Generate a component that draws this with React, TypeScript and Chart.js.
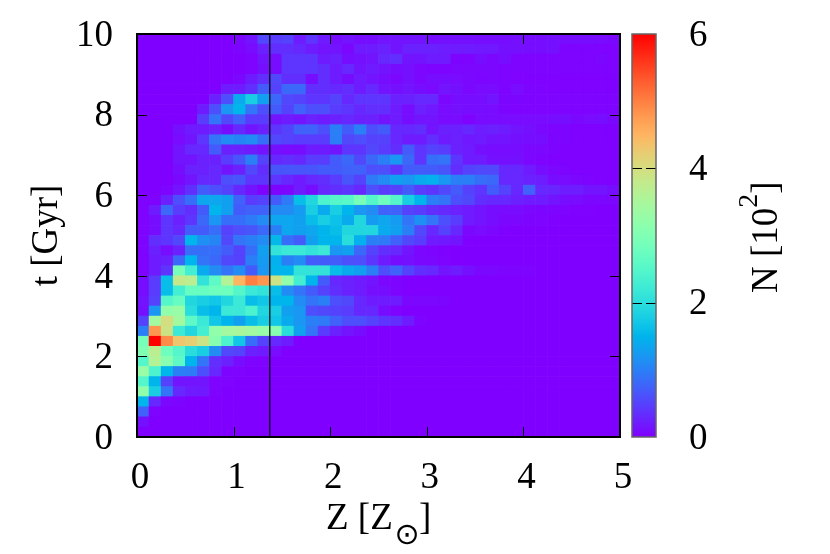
import React, { useEffect, useRef } from "react";
import { Chart, registerables } from "chart.js";

Chart.register(...registerables);

const FONT = '"Liberation Serif", "Times New Roman", serif';
const zEdgeStep = 0.125;
const tEdgeStep = 0.25;
const columnCount = 40;
const zTicksStep = 1;
const tTicksStep = 2;
const solarLine = [1.375, 1.375];
const solarLineT = [0, 10];
const colorbarLabels = ["N"];
const colorbarRange = [0, 6];

// N / 10^2 for each cell; first row is t = 9.75-10 Gyr, columns run Z = 0 -> 5. Omitted tail cells are 0.
const nRows: number[][] = [
  [0,0,0,0,0,0,0,0,.05,.15,.55,.45,.5,.2,.4,.2,.1,.15,.1,.1,.15,.15,.15,.15,.1,.12,.12,.12,.1,.1,.1,.12,.1,.1,.12,.1,.1,.1,.08,.06],
  [0,0,0,0,0,0,0,0,.03,.08,.25,.35,.35,.3,.2,.15,.15,.05,.2,.2,.25,.15,.25,.25,.25,.22,.2,.2,.18,.18,.12,.12,.1,.1,.12,.03,.03,.03,.02,.02],
  [0,0,0,0,0,0,0,0,0,.02,.15,.1,.4,.4,.4,.2,.25,.1,.12,.15,.3,.35,.15,.15,.2,.2,.03,.03,.1,.05,.1,.03,.02,.02,.02,.02,.02,.02,.05,.02],
  [0,0,0,0,0,0,0,0,0,.02,.12,.1,.4,.4,.4,.35,.2,.3,.15,.2,.15,.1,.12,.05,.03,.03,.05,.05,.05,.05,.02,.02,.02,.02,.02,.02,.02,.02,.02,.02],
  [0,0,0,0,0,0,0,0,.05,.2,.35,.55,.35,.35,.1,.35,.2,.1,.2,.15,.1,.05,.12,.05,.1,.1,.08,.06,.04,.05,.02,.02,.01,.01,.01,.01,.01,.01,.01,.01],
  [0,0,0,0,0,0,0,.2,.2,.35,.7,.5,.8,.8,.35,.35,.3,.35,.2,.3,.15,.12,.15,.1,.07,.15,.12,.05,.08,.08,.03,.08,.03,.02,.01,.01,.01,.01,.01,.01],
  [0,0,0,0,0,0,.25,.6,1.4,1.8,1.3,.8,.55,.5,.4,.4,.5,.3,.4,.4,.4,.25,.25,.3,.3,.05,.1,.1,.1,.15,.04,.04,.02,.02,.02,.02,.02,.02,.02,.02],
  [0,0,0,0,0,.2,.6,1.2,1.5,.9,.6,.7,.5,.75,.6,.6,.45,.4,.3,.35,.35,.2,.1,.25,.18,.08,.12,.1,.1,.08,.04,.02,.02,.02,.02,.02,.02,.02,.02,.02],
  [0,0,0,0,0,.45,.9,.55,.75,.45,.45,.15,.2,.15,.25,.2,.25,.3,.25,.25,.15,.2,.1,.15,.15,.08,.08,.02,.08,.08,.08,.08,.08,.08,.1,.1,.06,.08,.1,.06],
  [0,0,0,.12,.2,.2,.25,.1,.3,.15,.25,.4,.5,.75,.75,.6,1,.7,1,.6,.7,.3,.3,.35,.15,.25,.25,.3,.22,.25,.2,.15,.12,.06,.03,.03,.01,.01,.01,.01],
  [0,0,0,.08,.15,.4,.9,1.1,1.05,1.1,.85,.55,.5,.45,.45,.45,1,.55,.6,.5,.5,.3,.2,.2,.35,.2,.25,.18,.2,.15,.15,.12,.1,.1,.04,.03,.01,.01,.01,.01],
  [0,0,0,.15,.3,.3,.7,.25,.25,.2,.15,.12,.08,.1,.2,.2,.15,.4,.4,.55,.45,.35,.7,.4,.5,.45,.25,.2,.12,.1,.1,.1,.05,.05,.03,.01,.01,.01,.01,.01],
  [0,0,0,.15,.15,.25,.25,.45,.65,1,.5,.3,.35,.3,.45,.45,.7,.8,.55,.8,1,1.2,.8,.4,.85,.9,.4,.2,.2,.12,.12,.12,.05,.02,.01,.01,.01,.01,.01,.01],
  [0,0,0,.1,.25,.25,.3,.15,.25,.55,.35,.65,.65,.65,.65,.7,.7,.75,.75,.6,.6,.4,.7,.7,.7,.65,.35,.5,.55,.55,.3,.3,.2,.1,.05,.03,.01,.01,.01,.01],
  [0,0,0,.06,.15,.3,.3,.6,.65,.4,.4,.4,.3,.2,.3,.35,.45,.65,.5,.95,1.1,1.3,1.2,1.4,1.45,1.2,1,1,.85,.8,.3,.3,.25,.22,.1,.08,.05,.02,.01,.01],
  [0,0,.03,.15,.35,.7,.6,.5,.3,.15,.03,.03,.05,.2,.1,.3,.35,.4,.3,.6,.45,.5,.7,.45,.4,.55,.7,.5,.4,.7,.5,.3,.75,.3,.28,.22,.22,.15,.15,.1],
  [.02,.02,.25,.6,.85,1.35,1.35,1.3,.75,.45,.5,.7,.95,1.6,1.9,2.4,2.5,2.55,2.9,2.5,2.8,2.5,1.8,1.5,1,.9,.6,.55,.35,.3,.3,.25,.2,.2,.15,.1,.08,.05,.05,.05],
  [.02,.2,.8,.45,.35,.7,1.5,1.3,.7,.75,.75,1.1,1.1,1.25,1.8,1.4,1.8,1.5,1.2,1.1,.75,.75,.5,.45,.35,.3,.25,.2,.15,.1,.08,.08,.05,.04,.03,.02,.01,.01],
  [.02,.1,.4,.25,.4,.8,1.2,.85,.85,.95,1.1,1.35,1.35,1.3,1.6,1.8,1.65,1.4,1.9,1.25,1.35,1.25,.9,1.15,.9,.6,.45,.2,.15,.1,.05,.05,.03,.02,.01],
  [.02,.1,.4,.3,.7,.7,.85,.5,.6,.65,.8,1,1.35,1.3,1.35,1.5,1.6,1.9,1.9,1.9,1.4,1.3,1,.55,.3,.5,.3,.05,.08,.05,.01],
  [.03,.35,.4,.55,1.5,1.15,1.05,.55,.9,1,1.1,1.55,.85,.7,1.3,1.5,1.5,2,1.45,1,.95,.75,.55,.45,.2,.18,.15,.01],
  [.03,.25,.1,.25,.85,.85,.85,.7,.5,.85,1.3,2.1,2.2,2.2,2.1,2.2,1.2,1.3,.8,.5,.35,.3,.15,.05,.03,.01],
  [.03,.2,.25,.8,1.5,.9,.8,.55,.5,1,1.25,1.45,1,1.1,.7,.7,.7,.6,.6,.4,.2,.1,.12,.06,.05,.02],
  [.03,.2,.4,2.9,2.3,1.4,1.1,.9,1.1,.7,1.2,1.5,1.5,2.1,2.1,2.1,1.6,1.4,1.3,1,.6,.75,.5,.35,.3,.15,.2,.12,.06,.05,.03,.03,.02],
  [.1,.45,1.6,3.8,3.7,2.1,2.6,3.6,4.5,5,4.8,3.9,3.2,2.3,1.5,.7,.3,.25,.2,.15,.05,.03],
  [.1,.45,1.6,2.3,2.7,2.7,2.8,2.8,2.5,2.2,2.1,1.6,1.1,.9,.7,.5,.35,.25,.2,.12,.1,.03],
  [.15,.5,2.5,2.7,1.9,1.8,1.7,1.9,2.2,1.6,1.7,1.5,1.5,1.1,.9,1,.6,.55,.3,.2,.2,.2,.05,.05,.05,.04],
  [.12,1.2,3.2,3.3,2,1.6,1.5,2.2,2.2,2.4,1.9,1.8,1.3,1.2,.6,.55,.5,.45,.3,.3,.1,.02],
  [.5,3.4,4,3.4,2.6,2.2,1.7,1.5,1.3,1.6,1.8,1.7,1.4,1.2,1,.95,.75,.6,.6,.5,.4,.35,.2,.03],
  [1,4.8,3.9,2.2,1.9,2.3,3.2,3.4,3.5,3.4,3.3,3.1,2,1.3,.9,.45,.25,.15,.1],
  [2.9,6,4.9,4.3,4.2,3.9,3.1,2.4,1.7,.85,.5,.3,.2],
  [3,3.7,2.8,2.5,2,1.8,1.1,.55,.5,.25,.2,.08],
  [2.5,3.6,3.1,2.6,1.5,.9,.35,.25,.1,.02,.02],
  [3.3,2.4,1.5,1,.95,.6,.3,.03,.02],
  [2.5,1.5,.5,.15,.15,.15,.02,.02],
  [3.2,1.8,.9,.3,.2,.18,.02],
  [1.5,.3,.05,.03],
  [.75,.02],
  [.12],
  [],
];

const cells = nRows.flatMap((row, r) =>
  Array.from({ length: columnCount }, (_, c) => ({
    x: (c + 0.5) * zEdgeStep,
    y: [10 - (r + 1) * tEdgeStep, 10 - r * tEdgeStep],
    n: row[c] ?? 0,
  }))
);

function palette(n: number): string {
  const x = Math.min(1, Math.max(0, n / 6));
  const r = Math.min(1, Math.abs(2 * x - 0.5));
  const g = Math.sin(Math.PI * x);
  const b = Math.cos((Math.PI * x) / 2);
  return `rgb(${Math.round(r * 255)},${Math.round(g * 255)},${Math.round(b * 255)})`;
}

const frameTicks = {
  id: "frameTicks",
  afterDatasetsDraw(chart: any) {
    const { ctx, chartArea: a, scales } = chart;
    ctx.save();
    ctx.strokeStyle = "#000";
    ctx.lineWidth = 1;
    const len = 10;
    ctx.beginPath();
    for (const t of scales.x.ticks) {
      const p = Math.round(scales.x.getPixelForValue(t.value)) + 0.5;
      if (t.value <= 0 || t.value >= 5) continue;
      ctx.moveTo(p, a.top);
      ctx.lineTo(p, a.top + len);
      ctx.moveTo(p, a.bottom);
      ctx.lineTo(p, a.bottom - len);
    }
    for (const t of scales.y.ticks) {
      const p = Math.round(scales.y.getPixelForValue(t.value)) + 0.5;
      if (t.value <= 0 || t.value >= 10) continue;
      ctx.moveTo(a.left, p);
      ctx.lineTo(a.left + len, p);
      ctx.moveTo(a.right, p);
      ctx.lineTo(a.right - len, p);
    }
    ctx.stroke();
    ctx.lineWidth = 2;
    ctx.strokeRect(a.left, a.top, a.right - a.left, a.bottom - a.top);
    ctx.restore();
  },
  afterDraw(chart: any) {
    const { ctx } = chart;
    ctx.save();
    ctx.fillStyle = "#000";
    ctx.textBaseline = "alphabetic";
    ctx.textAlign = "left";
    ctx.font = `37px ${FONT}`;
    ctx.fillText("Z [Z", 326, 529);
    ctx.fillText("]", 419, 529);
    ctx.font = '30px "DejaVu Sans"';
    ctx.textAlign = "center";
    ctx.fillText("\u2299", 407, 544);
    ctx.restore();
  },
};

const colorbarFrame = {
  id: "colorbarFrame",
  afterDatasetsDraw(chart: any) {
    const { ctx, chartArea: a, scales } = chart;
    ctx.save();
    ctx.strokeStyle = "#000";
    ctx.lineWidth = 1;
    ctx.beginPath();
    for (const t of scales.y.ticks) {
      if (t.value <= 0 || t.value >= 6) continue;
      const p = Math.round(scales.y.getPixelForValue(t.value)) + 0.5;
      ctx.moveTo(a.left, p);
      ctx.lineTo(a.left + 10, p);
      ctx.moveTo(a.right, p);
      ctx.lineTo(a.right - 10, p);
    }
    ctx.stroke();
    ctx.strokeStyle = "#666";
    ctx.lineWidth = 1.5;
    ctx.strokeRect(a.left, a.top, a.right - a.left, a.bottom - a.top);
    ctx.restore();
  },
  afterDraw(chart: any) {
    const { ctx } = chart;
    ctx.save();
    ctx.fillStyle = "#000";
    ctx.translate(777, 293);
    ctx.rotate(-Math.PI / 2);
    ctx.textAlign = "left";
    ctx.textBaseline = "alphabetic";
    ctx.font = `37px ${FONT}`;
    const main = "N [10";
    ctx.fillText(main, 0, 0);
    const w = ctx.measureText(main).width;
    ctx.font = `28px ${FONT}`;
    ctx.fillText("2", w, -20);
    const w2 = ctx.measureText("2").width;
    ctx.font = `37px ${FONT}`;
    ctx.fillText("]", w + w2, 0);
    ctx.restore();
  },
};

const noScalePadding = (s: any) => {
  s.paddingTop = 0;
  s.paddingBottom = 0;
};

export default function App() {
  const mainRef = useRef<HTMLCanvasElement>(null);
  const barRef = useRef<HTMLCanvasElement>(null);

  useEffect(() => {
    const tickFont = { family: FONT, size: 37 };
    const main = new Chart(mainRef.current!, {
      type: "bar",
      data: {
        datasets: [
          {
            type: "scatter",
            data: solarLine.map((x, i) => ({ x, y: solarLineT[i] })),
            showLine: true,
            borderColor: "#000",
            borderWidth: 1.2,
            pointRadius: 0,
            order: 1,
          } as any,
          {
            data: cells as any,
            backgroundColor: (c: any) => palette((c.raw as any)?.n ?? 0),
            borderWidth: 0,
            barPercentage: 1,
            categoryPercentage: 1,
            order: 2,
          },
        ],
      },
      options: {
        responsive: false,
        animation: false,
        layout: { autoPadding: false, padding: { top: 34, right: 210, bottom: 0, left: 0 } },
        plugins: { legend: { display: false }, tooltip: { enabled: false } },
        scales: {
          x: {
            type: "linear",
            min: 0,
            max: 5,
            offset: false,
            grid: { display: false, offset: false, drawTicks: false },
            border: { display: false },
            ticks: {
              stepSize: zTicksStep,
              font: tickFont,
              color: "#000",
              padding: 19,
              labelOffset: 3,
              maxRotation: 0,
            },
            afterFit: (s: any) => {
              s.height = 117;
            },
          },
          y: {
            type: "linear",
            min: 0,
            max: 10,
            grid: { display: false, drawTicks: false },
            border: { display: false },
            ticks: { stepSize: tTicksStep, font: tickFont, color: "#000", padding: 24, labelOffset: 2 },
            title: {
              display: true,
              text: "t [Gyr]",
              font: tickFont,
              color: "#000",
              padding: { top: 25, bottom: 0 },
            },
            afterFit: (s: any) => {
              s.width = 137;
              noScalePadding(s);
            },
          },
        },
      } as any,
      plugins: [frameTicks],
    });

    const bar = new Chart(barRef.current!, {
      type: "bar",
      data: {
        labels: colorbarLabels,
        datasets: [
          {
            data: [colorbarRange as any],
            backgroundColor: (c: any) => {
              const a = c.chart.chartArea;
              if (!a) return palette(0);
              const g = c.chart.ctx.createLinearGradient(0, a.bottom, 0, a.top);
              for (let i = 0; i <= 64; i++) g.addColorStop(i / 64, palette((i / 64) * 6));
              return g;
            },
            borderWidth: 0,
            barPercentage: 1,
            categoryPercentage: 1,
          },
        ],
      },
      options: {
        responsive: false,
        animation: false,
        layout: { autoPadding: false, padding: { top: 34, right: 0, bottom: 117, left: 632 } },
        plugins: { legend: { display: false }, tooltip: { enabled: false } },
        scales: {
          x: { display: false },
          y: {
            position: "right",
            min: 0,
            max: 6,
            grid: { display: false, drawTicks: false },
            border: { display: false },
            ticks: { stepSize: 2, font: tickFont, color: "#000", padding: 33, labelOffset: 2 },
            afterFit: (s: any) => {
              s.width = 174;
              noScalePadding(s);
            },
          },
        },
      } as any,
      plugins: [colorbarFrame],
    });

    return () => {
      main.destroy();
      bar.destroy();
    };
  }, []);

  const style: React.CSSProperties = { position: "fixed", left: 0, top: 0 };
  return (
    <div>
      <canvas ref={mainRef} width={830} height={554} style={style} />
      <canvas ref={barRef} width={830} height={554} style={style} />
    </div>
  );
}
